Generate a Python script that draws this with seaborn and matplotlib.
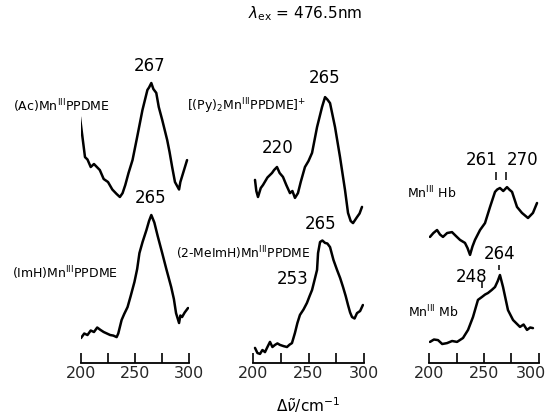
import numpy as np
import matplotlib
matplotlib.use("Agg")
import matplotlib.pyplot as plt
import matplotlib.transforms as mtransforms
import seaborn as sns

# -------------------------
# DATA (Raman shift in cm-1, intensity in arbitrary units, offset per trace)
# -------------------------
ac_x = [199, 201, 203.7, 206, 209, 212, 217.4, 221, 225, 229, 233, 236, 238.5, 241, 244,
        247.7, 252, 256.9, 261.5, 263, 265.1, 267, 269.7, 272, 275.2, 279.8, 282, 284.4,
        287, 290.8, 292, 295.4, 298.2]
ac_y = [79.7, 74, 66.3, 65.5, 63, 64, 62, 59, 58, 55.5, 54, 53, 54.3, 57, 61,
        65.3, 73, 82, 88.7, 89.5, 91, 89, 87.7, 83, 78.7, 72, 68, 63,
        58, 55.5, 58, 62, 65.3]

imh_x = [200, 203, 206, 209, 212, 215, 218, 221, 224, 227, 230, 233, 234.5, 237.6, 240,
         243.1, 246, 249.5, 252, 254.1, 257, 260.6, 263, 265.1, 267.9, 271, 275.2, 279,
         283.5, 286, 288, 290.8, 292, 293.6, 296, 299.1]
imh_y = [6, 7.5, 7, 8.5, 8, 9.5, 8.7, 8, 7.5, 7, 6.8, 6.3, 7.5, 12, 14,
         16.3, 20, 24.7, 29, 34.3, 38, 42, 45, 47, 44.5, 40, 34.3, 29,
         23, 19, 14.3, 11, 13.5, 13, 14.5, 16]

py_x = [201.8, 203, 204.5, 207, 209, 213, 217.1, 219, 221.6, 224, 227, 230, 233.3, 235.5,
        237.8, 240.5, 243, 246.8, 250, 253.2, 257.7, 262.2, 264.9, 267, 269.4, 273.9,
        278.4, 282.9, 285.6, 288, 290.1, 293.7, 296, 298.2]
py_y = [58.7, 55, 53, 56, 57, 59.5, 61, 62, 63, 61, 59.7, 57, 54.3, 55,
        52.7, 54.3, 58, 63, 65, 67.7, 76.3, 83, 86.3, 85.5, 84.3, 76.3,
        66.3, 55.3, 47.7, 45, 44.3, 46.3, 47.5, 49.7]

meimh_x = [201.8, 204, 206.3, 208.5, 210.8, 213, 215.3, 217.5, 219.8, 222, 224.3, 227.5,
           230.6, 233, 235.1, 237.8, 240, 242.3, 245.5, 248.6, 251, 253.2, 255.9, 257.7,
           258.6, 260.4, 262.5, 264.9, 267, 269.4, 272.5, 275.7, 278.5, 281.1, 283.5,
           285.6, 287.5, 289.2, 291.5, 293.7, 296.5, 299]
meimh_y = [2.7, 1, 0.7, 2, 1.3, 3, 4.7, 3, 3.7, 4.2, 3.7, 3.3,
           3, 3.8, 4.3, 7.7, 11, 13.7, 15.5, 17.7, 20, 22, 26, 28.7,
           34.3, 38, 38.5, 37.7, 37.5, 36.3, 32, 28.7, 26, 23, 20,
           17, 14.5, 13, 12.5, 14.3, 15, 17]

hb_x = [200.9, 204, 207.3, 210, 212.7, 216.5, 220.9, 224.5, 228.2, 232.7, 235, 237.3,
        239.5, 241.8, 246.4, 250.9, 255.5, 260, 262, 264.5, 267.5, 270.9, 273, 275.5,
        280, 284.5, 290, 294.5, 298.2]
hb_y = [39.7, 41, 42, 40.5, 39.7, 41, 41.3, 40, 38.7, 37.7, 36, 33.7,
        36.5, 38.7, 42, 44.3, 49.7, 54.7, 55.5, 56, 55, 56.3, 55.5, 54.7,
        49.7, 47.7, 46, 47.7, 51]

mb_x = [200.9, 204.5, 208.2, 212, 216.4, 221, 225.5, 230.9, 235.5, 240, 244.5, 248.2,
        251, 253.6, 257, 260, 262.5, 264.5, 267.3, 271.8, 276.4, 282.7, 286, 289.1,
        292, 294.5]
mb_y = [4.7, 5.5, 5.3, 4, 4.3, 5, 4.7, 6, 8.7, 13, 18.7, 19.7,
        20.5, 21, 22, 23, 25, 27, 23, 15.3, 12, 9.7, 10.5, 8.7,
        9.5, 9.3]

# peak markers in the Hb / Mb panel: (position, bottom, top)
hb_marks = [(261, 58.7, 61.3), (270, 58.7, 61.3)]
mb_marks = [(248, 22.7, 24.7), (264, 28.7, 30.3)]

# -------------------------
# FIGURE
# -------------------------
sns.set_theme(style="white")
plt.rcParams["font.family"] = ["DejaVu Sans"]
plt.rcParams["mathtext.fontset"] = "dejavusans"

W, H = 551, 417
fig = plt.figure(figsize=(W / 100, H / 100), dpi=100)
fig.patch.set_facecolor("white")

# axes boxes in pixels: left, width
cols = [(81, 108), (253, 111), (429, 110)]
bottom_px, height_px = 363, 300
axes = []
for left, width in cols:
    ax = fig.add_axes([left / W, (H - bottom_px) / H, width / W, height_px / H])
    ax.set_facecolor("none")
    ax.set_xlim(200, 300)
    ax.set_ylim(-2.33, 97.67)
    for s in ["left", "right", "top"]:
        ax.spines[s].set_visible(False)
    ax.spines["bottom"].set_color("black")
    ax.spines["bottom"].set_linewidth(1.3)
    ax.set_xticks([200, 250, 300])
    ax.set_xticks([225, 275], minor=True)
    ax.set_yticks([])
    ax.tick_params(axis="x", which="both", direction="in", length=7, width=1.2,
                   color="black", labelsize=11.5, pad=2, bottom=True)
    axes.append(ax)

# last panel is tight against the right edge: nudge its "300" label left
fig.canvas.draw()
last_lbl = axes[2].get_xticklabels()[-1]
last_lbl.set_transform(last_lbl.get_transform() +
                       mtransforms.ScaledTranslation(-8 / 100, 0, fig.dpi_scale_trans))

traces = [(0, ac_x, ac_y), (0, imh_x, imh_y), (1, py_x, py_y),
          (1, meimh_x, meimh_y), (2, hb_x, hb_y), (2, mb_x, mb_y)]
for i, xs, ys in traces:
    sns.lineplot(x=xs, y=ys, ax=axes[i], color="black", linewidth=1.8)

for xm, y0, y1 in hb_marks + mb_marks:
    axes[2].vlines(xm, y0, y1, color="black", linewidth=1.1)


def ptext(x, y, s, size=12, ha="center"):
    fig.text(x / W, 1 - y / H, s, fontsize=size, ha=ha, va="center", color="black")


# peak labels
ptext(150, 66, "267")
ptext(151, 198, "265")
ptext(278, 148, "220")
ptext(325, 78, "265")
ptext(321, 224, "265")
ptext(293, 279, "253")
ptext(482, 160, "261")
ptext(523, 160, "270")
ptext(500, 254, "264")
ptext(472, 277, "248")

# compound labels
ptext(13, 106, r"(Ac)Mn$^{\rm III}$PPDME", size=9, ha="left")
ptext(12, 273, r"(ImH)Mn$^{\rm III}$PPDME", size=9, ha="left")
ptext(187, 106, r"[(Py)$_{2}$Mn$^{\rm III}$PPDME]$^{+}$", size=9, ha="left")
ptext(176, 253, r"(2-MeImH)Mn$^{\rm III}$PPDME", size=8.8, ha="left")
ptext(407, 193, r"Mn$^{\rm III}$ Hb", size=9, ha="left")
ptext(408, 312, r"Mn$^{\rm III}$ Mb", size=9, ha="left")

# title and axis label
ptext(305, 14, r"$\lambda_{\rm ex}$ = 476.5nm", size=11)
ptext(308, 405, r"$\Delta\tilde{\nu}$/cm$^{-1}$", size=11)

fig.savefig("out.png", dpi=100, facecolor="white")
plt.close(fig)
